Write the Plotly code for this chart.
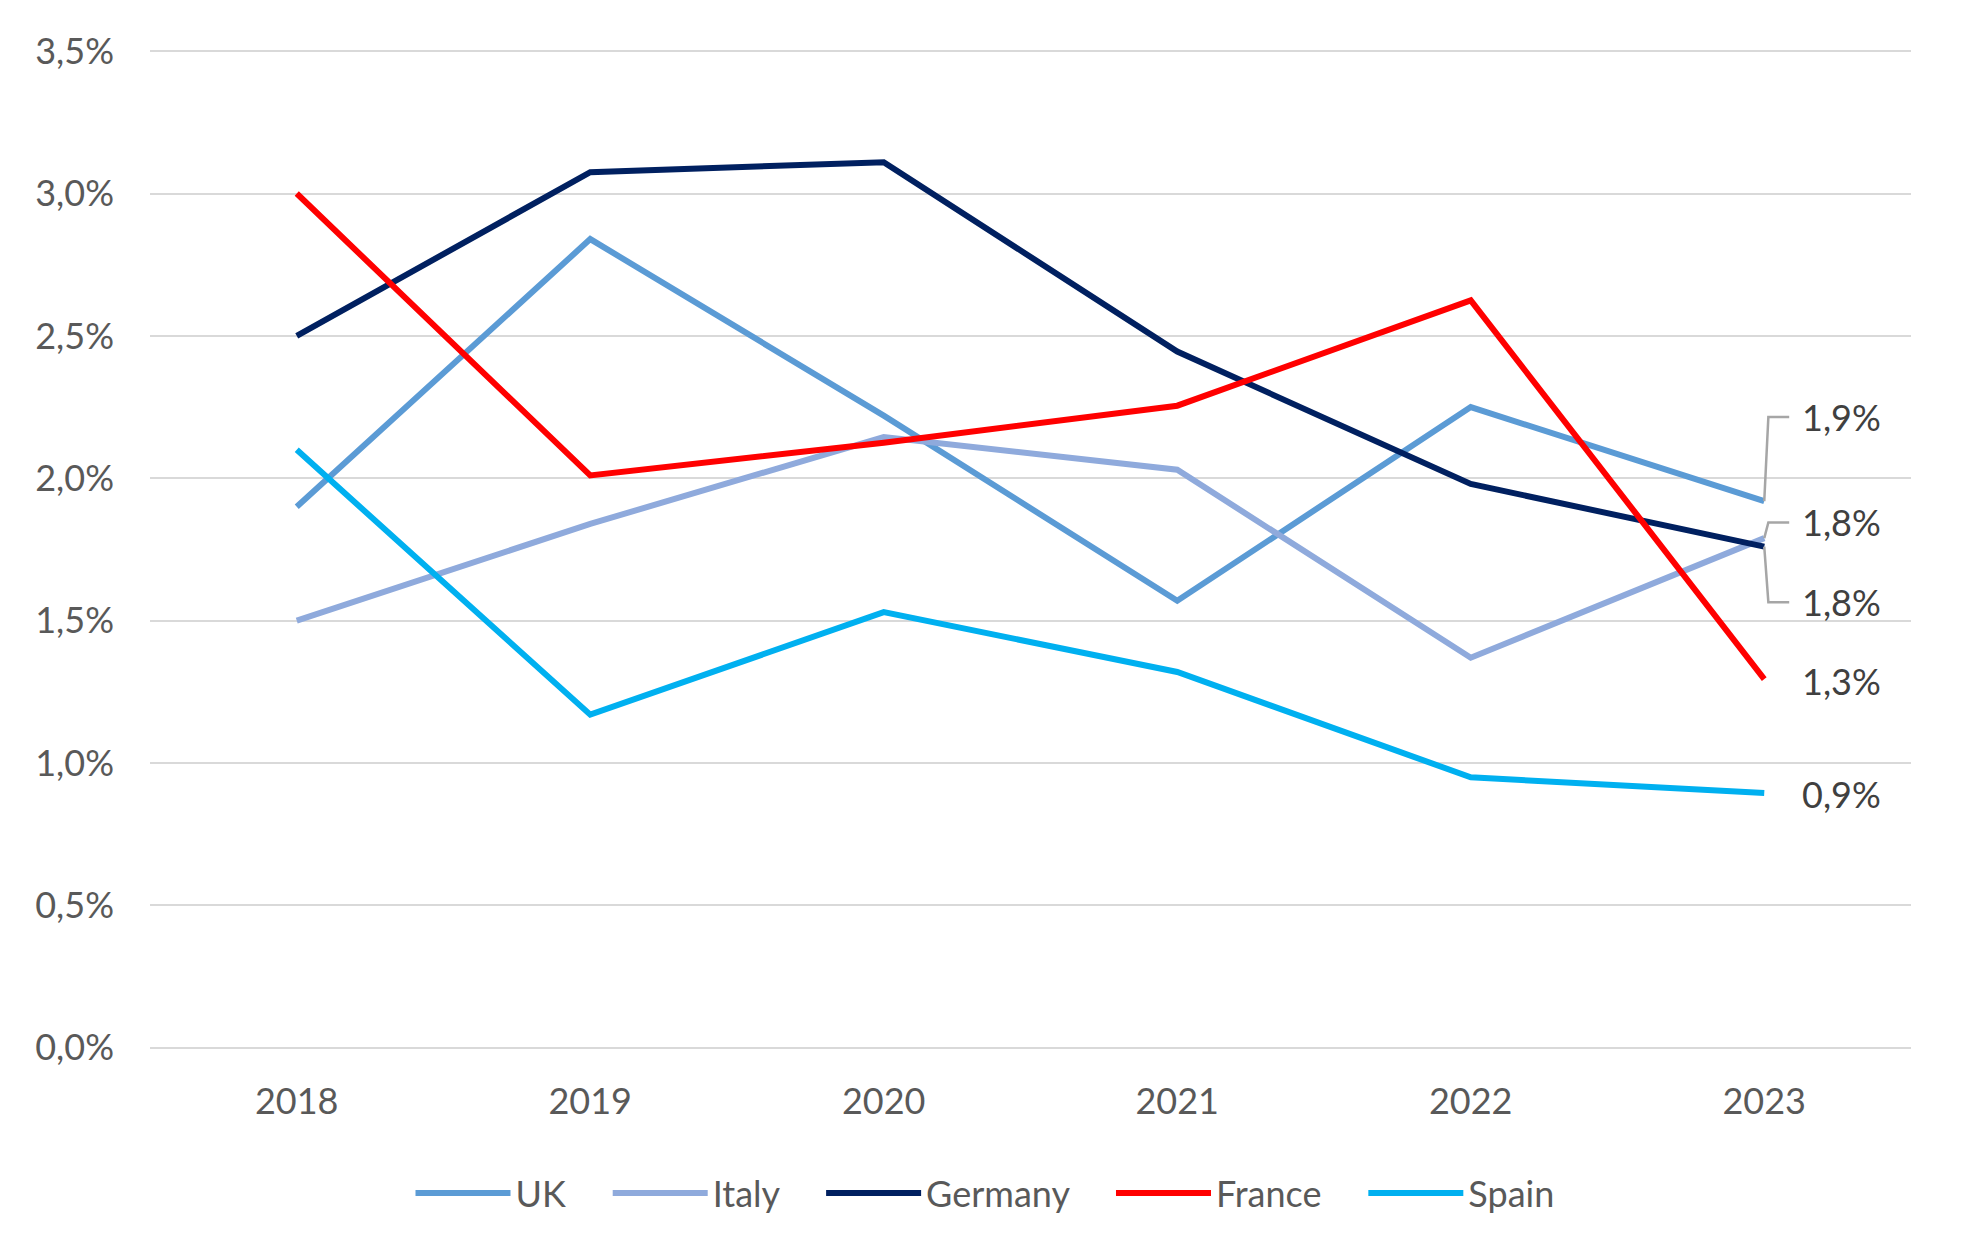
import plotly.graph_objects as go

years = [2018, 2019, 2020, 2021, 2022, 2023]
year_labels = ["2018", "2019", "2020", "2021", "2022", "2023"]

uk = [1.90, 2.84, 2.22, 1.57, 2.25, 1.92]
italy = [1.50, 1.84, 2.145, 2.03, 1.37, 1.79]
germany = [2.50, 3.075, 3.11, 2.445, 1.98, 1.76]
france = [3.00, 2.01, 2.125, 2.255, 2.625, 1.295]
spain = [2.10, 1.17, 1.53, 1.32, 0.95, 0.895]

series_names = ["UK", "Italy", "Germany", "France", "Spain"]
series_values = [uk, italy, germany, france, spain]
colors = ["#5B9BD5", "#8FAADC", "#002060", "#FF0000", "#00B0F0"]

# label text values and the y position (in %) where each end label sits
end_label_text = ["1,9%", "1,8%", "1,8%", "1,3%", "0,9%"]
end_label_y = [2.215, 1.845, 1.565, 1.29, 0.89]
has_leader = [True, True, True, False, False]

FONT = "Lato"
TXT = "#595959"
PAD = "\u00a0" * 4

fig = go.Figure()
for name, vals, col in zip(series_names, series_values, colors):
    fig.add_trace(go.Scatter(
        x=years, y=vals, name=name + (PAD if name != series_names[-1] else ""),
        mode="lines",
        line=dict(color=col, width=6),
    ))

last_x = years[-1]
for vals, txt, ly, lead in zip(series_values, end_label_text, end_label_y, has_leader):
    fig.add_annotation(
        x=last_x, y=ly, xref="x", yref="y", text=txt, showarrow=False,
        xanchor="left", yanchor="middle", xshift=36,
        font=dict(family=FONT, size=36, color="#404040"),
    )
    if lead:
        v = vals[-1]
        fig.add_shape(
            type="path",
            path=f"M {last_x} {v} L {last_x + 0.014} {ly} L {last_x + 0.085} {ly}",
            xref="x", yref="y",
            line=dict(color="#A6A6A6", width=2.5),
        )

# page body has an 8px margin; compensate so the figure sits as in the reference
W, H = 1954, 1252
fig.update_layout(
    width=W, height=H,
    paper_bgcolor="white", plot_bgcolor="white",
    margin=dict(l=142, r=51, t=42, b=211),
    separators=",.",
    font=dict(family=FONT, size=36, color=TXT),
    showlegend=True,
    legend=dict(
        orientation="h", xref="container", yref="container",
        x=0.5, xanchor="center", y=1 - 1185 / H, yanchor="middle",
        font=dict(family=FONT, size=36, color=TXT),
        itemwidth=95, tracegroupgap=0,
    ),
    xaxis=dict(
        range=[2017.5, 2023.5], tickvals=years, ticktext=year_labels,
        showgrid=False, zeroline=False, showline=False, ticks="",
        ticklabelstandoff=28,
        tickfont=dict(family=FONT, size=36, color=TXT),
    ),
    yaxis=dict(
        range=[-0.004, 3.504], dtick=0.5, tick0=0, tickformat=".1f", ticksuffix="%",
        showgrid=True, gridcolor="#D9D9D9", gridwidth=2,
        zeroline=False, showline=False, ticks="",
        ticklabelstandoff=35,
        tickfont=dict(family=FONT, size=36, color=TXT),
    ),
)

fig.write_html("out.html")
